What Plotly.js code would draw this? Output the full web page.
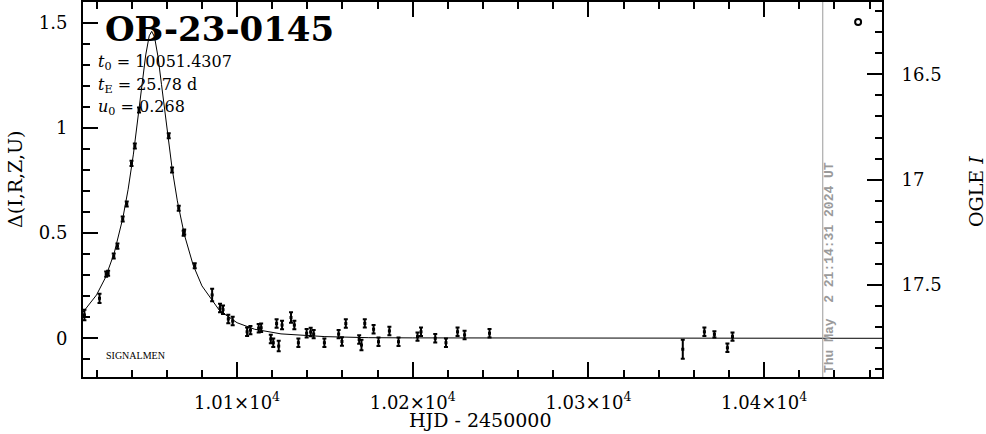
<!DOCTYPE html>
<html>
<head>
<meta charset="utf-8">
<script src="https://cdn.plot.ly/plotly-3.0.1.min.js"></script>
<style>html,body{margin:0;padding:0;background:#fff;}#chart{width:986px;height:434px;}</style>
</head>
<body>
<div id="chart"></div>
<script>
// Observed points: HJD-2450000, Δ mag, error
const tObs = [10013.1,10021.7,10025.5,10026.6,10029.8,10031.9,10034.9,10037.2,10039.9,10041.8,10044.2,
  10061.1,10063.0,10066.8,10069.6,10069.9,10075.9,10085.8,10090.3,10092.0,10095.0,10097.5,
  10105.7,10107.6,10112.3,10113.7,10119.2,10120.6,10123.7,10122.5,10125.6,10130.7,10132.6,10134.9,
  10139.6,10141.9,10143.6,10149.7,10157.8,10159.7,10161.9,10169.5,10170.8,10172.7,10177.7,10180.5,
  10186.7,10191.9,10202.7,10204.7,10212.8,10218.9,10225.5,10229.5,10243.7,
  10353.7,10366.0,10371.7,10379.1,10382.0];
const dObs = [0.111,0.190,0.305,0.309,0.391,0.438,0.567,0.638,0.831,0.914,1.085,
  0.962,0.800,0.618,0.499,0.505,0.345,0.206,0.144,0.136,0.092,0.082,
  0.031,0.039,0.048,0.050,-0.003,-0.021,-0.037,0.070,0.063,0.099,0.063,-0.021,
  0.024,0.030,0.020,-0.021,0.020,-0.015,0.070,-0.006,-0.032,0.071,0.043,-0.016,
  0.035,-0.016,0.008,0.031,0.000,-0.021,0.031,0.016,0.024,
  -0.052,0.031,0.019,-0.045,0.008];
const eObs = [0.025,0.022,0.012,0.012,0.012,0.012,0.012,0.012,0.012,0.012,0.012,
  0.012,0.012,0.012,0.012,0.012,0.012,0.030,0.020,0.020,0.020,0.020,
  0.020,0.020,0.020,0.020,0.020,0.020,0.025,0.020,0.020,0.025,0.020,0.020,
  0.020,0.020,0.020,0.020,0.020,0.020,0.020,0.020,0.025,0.020,0.020,0.020,
  0.020,0.020,0.020,0.020,0.020,0.020,0.020,0.020,0.020,
  0.045,0.020,0.015,0.020,0.020];

// Model curve
const tModel = [10012.3,10020,10025,10030,10035,10038,10041,10044,10046,10048,10050,10051.4,10053,10055,10057,
  10060,10063,10066,10070,10075,10080,10090,10100,10110,10125,10150,10175,10200,10250,10300,10467.1];
const dModel = [0.124,0.206,0.287,0.403,0.572,0.708,0.875,1.073,1.214,1.346,1.437,1.458,1.432,1.337,1.205,
  0.995,0.808,0.653,0.492,0.348,0.249,0.132,0.074,0.043,0.021,0.008,0.003,0.002,0.001,0.000,0.000];

const xTickVals = [10100,10200,10300,10400];
const xTickText = ['1.01×10<sup>4</sup>','1.02×10<sup>4</sup>','1.03×10<sup>4</sup>','1.04×10<sup>4</sup>'];
const yTickVals = [0,0.5,1,1.5];
const yTickText = ['0','0.5','1','1.5'];
const y2TickVals = [16.5,17,17.5];
const y2TickText = ['16.5','17','17.5'];

const markT = [10453.5];
const markI = [16.251];

const stampT = 10433.385;
const stampText = 'Thu May\u00a0 2 21:14:31 2024 UT';

const titleText = 'OB-23-0145';
const paramLines = ['<i>t</i><sub>0</sub> = 10051.4307','<i>t</i><sub>E</sub> = 25.78 d','<i>u</i><sub>0</sub> = 0.268'];

const traces = [
  {x:tModel, y:dModel, type:'scatter', mode:'lines', line:{color:'black', width:1}, hoverinfo:'skip'},
  {x:tObs, y:dObs, type:'scatter', mode:'markers',
   marker:{symbol:'square', size:3, color:'black'},
   error_y:{type:'data', array:eObs, visible:true, color:'black', thickness:2, width:2}},
  {x:markT, y:markI, yaxis:'y2', type:'scatter', mode:'markers',
   marker:{symbol:'circle-open', size:6, color:'black', line:{width:2, color:'black'}}}
];

const axCommon = {showgrid:false, zeroline:false, showline:true, linewidth:2, linecolor:'black',
  ticks:'inside', ticklen:15, tickwidth:2, tickcolor:'black', tickmode:'array'};

const px2x = p => (p-83)/799;
const py2y = p => (377-p)/375;

const layout = {
  width:986, height:434,
  margin:{l:83, r:104, t:2, b:57, pad:0},
  paper_bgcolor:'white', plot_bgcolor:'white',
  showlegend:false,
  font:{family:'DejaVu Serif', color:'black', size:18},
  xaxis:Object.assign({}, axCommon, {range:[10012.3,10467.1], mirror:'ticks',
    tickvals:xTickVals, ticktext:xTickText, tickfont:{size:18}, ticklabelstandoff:8,
    minor:{tickmode:'linear', tick0:10000, dtick:20, ticks:'inside', ticklen:7, tickwidth:2, tickcolor:'black', showgrid:false}}),
  yaxis:Object.assign({}, axCommon, {range:[-0.1838,1.5976], mirror:false,
    tickvals:yTickVals, ticktext:yTickText, tickfont:{size:18}, ticklabelstandoff:10,
    minor:{tickmode:'linear', tick0:0, dtick:0.1, ticks:'inside', ticklen:7, tickwidth:2, tickcolor:'black', showgrid:false}}),
  yaxis2:Object.assign({}, axCommon, {overlaying:'y', side:'right', range:[17.938,16.156],
    tickvals:y2TickVals, ticktext:y2TickText, tickfont:{size:18}, ticklabelstandoff:14,
    minor:{tickmode:'linear', tick0:16, dtick:0.1, ticks:'inside', ticklen:7, tickwidth:2, tickcolor:'black', showgrid:false}}),
  shapes:[{type:'line', xref:'x', yref:'paper', x0:stampT, x1:stampT, y0:0, y1:1, line:{color:'#9a9a9a', width:1}}],
  annotations:[
    {xref:'paper', yref:'paper', x:px2x(103), y:py2y(29), xanchor:'left', yanchor:'middle', showarrow:false,
     text:'<b>'+titleText+'</b>', font:{family:'DejaVu Serif', size:34, color:'black'}},
    {xref:'paper', yref:'paper', x:px2x(96), y:py2y(63), xanchor:'left', yanchor:'middle', showarrow:false,
     text:paramLines[0], font:{family:'DejaVu Serif', size:16, color:'black'}},
    {xref:'paper', yref:'paper', x:px2x(96), y:py2y(85), xanchor:'left', yanchor:'middle', showarrow:false,
     text:paramLines[1], font:{family:'DejaVu Serif', size:16, color:'black'}},
    {xref:'paper', yref:'paper', x:px2x(96), y:py2y(107), xanchor:'left', yanchor:'middle', showarrow:false,
     text:paramLines[2], font:{family:'DejaVu Serif', size:16, color:'black'}},
    {xref:'paper', yref:'paper', x:px2x(104), y:py2y(355.7), xanchor:'left', yanchor:'middle', showarrow:false,
     text:'SIGNALMEN', font:{family:'Liberation Serif', size:10, color:'black'}},
    {xref:'paper', yref:'paper', x:px2x(829), y:py2y(268), xanchor:'center', yanchor:'middle', showarrow:false,
     textangle:-90, text:'<b>'+stampText+'</b>', font:{family:'Liberation Mono', size:13, color:'#9a9a9a'}},
    {xref:'paper', yref:'paper', x:px2x(15), y:py2y(180), xanchor:'center', yanchor:'middle', showarrow:false,
     textangle:-90, text:'Δ(I,R,Z,U)', font:{family:'DejaVu Serif', size:19, color:'black'}},
    {xref:'paper', yref:'paper', x:px2x(976), y:py2y(192), xanchor:'center', yanchor:'middle', showarrow:false,
     textangle:-90, text:'OGLE <i>I</i>', font:{family:'DejaVu Serif', size:19, color:'black'}},
    {xref:'paper', yref:'paper', x:px2x(480), y:py2y(420), xanchor:'center', yanchor:'middle', showarrow:false,
     text:'HJD - 2450000', font:{family:'DejaVu Serif', size:19, color:'black'}}
  ]
};

Plotly.newPlot('chart', traces, layout, {staticPlot:true, displayModeBar:false});
</script>
</body>
</html>
